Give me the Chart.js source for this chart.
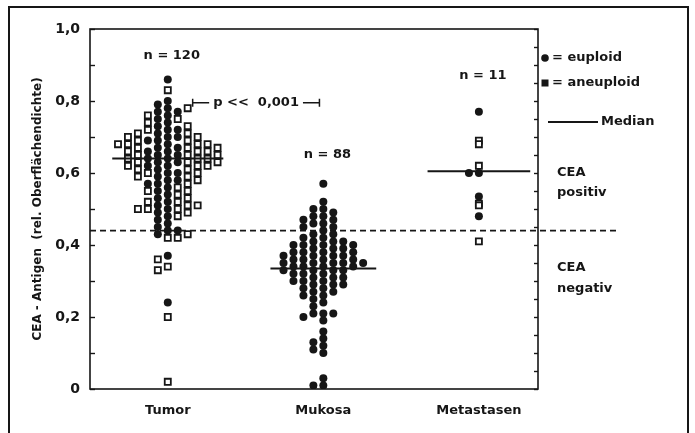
<!DOCTYPE html>
<html><head><meta charset="utf-8">
<script src="https://cdn.jsdelivr.net/npm/chart.js@4/dist/chart.umd.min.js"></script>
<style>html,body{margin:0;padding:0;background:#fff}#wrap{width:695px;height:433px;position:relative}</style>
</head><body><div id="wrap"><canvas id="c" width="695" height="433"></canvas></div>
<script>
// ---------- data ----------
const categories = ['Tumor', 'Mukosa', 'Metastasen'];
const groupCounts = ['n = 120', 'n = 88', 'n = 11'];
const tumorEuploid = [0.86, 0.80, 0.79, 0.78, 0.77, 0.77, 0.76, 0.75, 0.74, 0.73, 0.72, 0.72, 0.71, 0.70, 0.70,
  0.69, 0.69, 0.68, 0.67, 0.67, 0.66, 0.66, 0.65, 0.65, 0.64, 0.64, 0.63, 0.63, 0.62, 0.62, 0.61, 0.60, 0.60,
  0.59, 0.58, 0.58, 0.57, 0.57, 0.56, 0.55, 0.54, 0.53, 0.52, 0.51, 0.50, 0.49, 0.48, 0.47, 0.46, 0.45, 0.44,
  0.44, 0.43, 0.37, 0.24];
const tumorAneuploid = [0.83, 0.78, 0.76, 0.75, 0.74, 0.73, 0.72, 0.71, 0.71, 0.70, 0.70, 0.69, 0.69, 0.68, 0.68,
  0.68, 0.68, 0.67, 0.67, 0.67, 0.66, 0.66, 0.66, 0.65, 0.65, 0.65, 0.64, 0.64, 0.64, 0.63, 0.63, 0.63, 0.62,
  0.62, 0.62, 0.61, 0.61, 0.60, 0.60, 0.59, 0.59, 0.58, 0.57, 0.56, 0.55, 0.55, 0.54, 0.53, 0.52, 0.52, 0.51,
  0.51, 0.50, 0.50, 0.50, 0.49, 0.48, 0.43, 0.42, 0.42, 0.36, 0.34, 0.33, 0.20, 0.02];
const mukosaEuploid = [0.57, 0.52, 0.50, 0.50, 0.49, 0.48, 0.48, 0.47, 0.47, 0.46, 0.46, 0.45, 0.45, 0.44,
  0.43, 0.43, 0.42, 0.42, 0.41, 0.41, 0.41, 0.40, 0.40, 0.40, 0.40,
  0.39, 0.39, 0.39, 0.38, 0.38, 0.38, 0.38, 0.37, 0.37, 0.37, 0.37,
  0.36, 0.36, 0.36, 0.36, 0.35, 0.35, 0.35, 0.35, 0.35, 0.34, 0.34,
  0.34, 0.34, 0.33, 0.33, 0.33, 0.33, 0.32, 0.32, 0.32, 0.31, 0.31,
  0.31, 0.30, 0.30, 0.30, 0.29, 0.29, 0.29, 0.28, 0.28, 0.27, 0.27,
  0.26, 0.26, 0.25, 0.24, 0.23, 0.21, 0.21, 0.21, 0.20, 0.19, 0.16,
  0.14, 0.13, 0.12, 0.11, 0.10, 0.03, 0.01, 0.01];
const mukosaAneuploid = [];
const metastasenEuploid = [0.77, 0.60, 0.60, 0.535, 0.48];
const metastasenAneuploid = [0.69, 0.68, 0.62, 0.515, 0.51, 0.41];
const medians = [0.64, 0.335, 0.605];
const threshold = 0.44;
const yTickValues = [0, 0.2, 0.4, 0.6, 0.8, 1.0];
const legendLabels = ['= euploid', '= aneuploid', 'Median'];
const zoneLabels = [['CEA', 'positiv'], ['CEA', 'negativ']];
const pLabel = 'p <<  0,001';
const yTitle = 'CEA - Antigen  (rel. Oberflächendichte)';

// ---------- layout / style ----------
const INK = '#161616';
const FONT = "'DejaVu Sans', sans-serif";
const COL_STEP = 0.064;            // horizontal column spacing (x units)
const groupMinDist = [0.019, 0.019, 0.005];
const medianHalf = [0.357, 0.34, 0.33];
const countLabelY = [0.925, 0.65, 0.87];

const groups = [
  {eu: tumorEuploid, an: tumorAneuploid},
  {eu: mukosaEuploid, an: mukosaAneuploid},
  {eu: metastasenEuploid, an: metastasenAneuploid}
];

// simple dot-plot layout: each value goes to the nearest free column
function swarm(values, centre, minDist, placed, alternate) {
  const out = [];
  [...values].sort((a, b) => b - a).forEach((v, n) => {
    const s = (alternate && n % 2 === 1) ? -1 : 1;
    for (let k = 0; k < 60; k++) {
      const col = k === 0 ? 0 : (k % 2 ? -s * Math.ceil(k / 2) : s * Math.ceil(k / 2));
      if (!placed.some(p => p.col === col && Math.abs(p.v - v) < minDist - 1e-9)) {
        placed.push({col, v});
        out.push({x: centre + col * COL_STEP, y: v});
        break;
      }
    }
  });
  return out;
}

const euPts = [], anPts = [];
groups.forEach((g, i) => {
  const placed = [];
  euPts.push(...swarm(g.eu, i + 1, groupMinDist[i], placed, false));
  anPts.push(...swarm(g.an, i + 1, groupMinDist[i], placed, true));
});

const medianSets = medians.map((m, i) => ({
  type: 'line', order: 0,
  data: [{x: i + 1 - medianHalf[i], y: m}, {x: i + 1 + medianHalf[i], y: m}],
  borderColor: INK, borderWidth: 2, pointRadius: 0, fill: false
}));

const fmt = v => v === 0 ? '0' : v.toFixed(1).replace('.', ',');

const decor = {
  id: 'decor',
  beforeDatasetsDraw(chart) {
    const {ctx, chartArea: a, scales: {y}} = chart;
    ctx.save();
    const ty = y.getPixelForValue(threshold);
    ctx.strokeStyle = INK; ctx.lineWidth = 1.6; ctx.setLineDash([6, 4]);
    ctx.beginPath(); ctx.moveTo(a.left, ty); ctx.lineTo(620, ty); ctx.stroke();
    ctx.setLineDash([]);
    ctx.restore();
  },
  afterDraw(chart) {
    const {ctx, chartArea: a, scales: {x, y}} = chart;
    ctx.save();
    ctx.strokeStyle = INK; ctx.fillStyle = INK;
    ctx.lineWidth = 2;
    ctx.beginPath(); ctx.moveTo(9, 433); ctx.lineTo(9, 7); ctx.lineTo(688, 7); ctx.lineTo(688, 433); ctx.stroke();
    ctx.lineWidth = 1.6;
    ctx.strokeRect(a.left, a.top, a.right - a.left, a.bottom - a.top);
    ctx.lineWidth = 1.4;
    for (let v = 0; v <= 1.0001; v += 0.1) {
      const py = Math.round(y.getPixelForValue(v)) + 0.5;
      ctx.beginPath(); ctx.moveTo(a.left, py); ctx.lineTo(a.left + 5, py); ctx.stroke();
    }
    for (let v = 0; v <= 1.0001; v += 0.05) {
      const py = Math.round(y.getPixelForValue(v)) + 0.5;
      ctx.beginPath(); ctx.moveTo(a.right, py); ctx.lineTo(a.right - 4, py); ctx.stroke();
    }
    ctx.font = 'bold 13px ' + FONT; ctx.textAlign = 'center'; ctx.textBaseline = 'middle';
    groupCounts.forEach((t, i) => ctx.fillText(t, x.getPixelForValue(i + 1) + 4, y.getPixelForValue(countLabelY[i])));
    const bx0 = x.getPixelForValue(1.16), bx1 = x.getPixelForValue(1.975), by = y.getPixelForValue(0.795);
    const tw = ctx.measureText(pLabel).width, mid = (bx0 + bx1) / 2;
    ctx.fillText(pLabel, mid, by);
    ctx.lineWidth = 1.5;
    ctx.beginPath();
    ctx.moveTo(bx0, by); ctx.lineTo(mid - tw / 2 - 4, by);
    ctx.moveTo(mid + tw / 2 + 4, by); ctx.lineTo(bx1, by);
    ctx.moveTo(bx0, by - 4); ctx.lineTo(bx0, by + 4);
    ctx.moveTo(bx1, by - 4); ctx.lineTo(bx1, by + 4);
    ctx.stroke();
    ctx.textAlign = 'left';
    ctx.beginPath(); ctx.arc(545, 58, 3.8, 0, Math.PI * 2); ctx.fill();
    ctx.fillText(legendLabels[0], 552, 58);
    ctx.fillRect(541.5, 79.5, 7, 7);
    ctx.fillText(legendLabels[1], 552, 83);
    ctx.lineWidth = 2;
    ctx.beginPath(); ctx.moveTo(548, 122); ctx.lineTo(598, 122); ctx.stroke();
    ctx.fillText(legendLabels[2], 601, 122);
    ctx.fillText(zoneLabels[0][0], 557, 173);
    ctx.fillText(zoneLabels[0][1], 557, 193);
    ctx.fillText(zoneLabels[1][0], 557, 268);
    ctx.fillText(zoneLabels[1][1], 557, 289);
    ctx.restore();
  }
};

new Chart(document.getElementById('c'), {
  type: 'scatter',
  data: {
    datasets: [
      ...medianSets,
      {label: 'aneuploid', order: 1, data: anPts, pointStyle: 'rect', pointRadius: 4.3,
        backgroundColor: '#fff', borderColor: INK, borderWidth: 1.8},
      {label: 'euploid', order: 2, data: euPts, pointStyle: 'circle', pointRadius: 4,
        backgroundColor: INK, borderColor: INK, borderWidth: 0}
    ]
  },
  options: {
    responsive: false, animation: false, devicePixelRatio: 1,
    layout: {padding: {top: 29, right: 157, left: 0, bottom: 0}},
    plugins: {legend: {display: false}, tooltip: {enabled: false}},
    scales: {
      x: {
        type: 'linear', min: 0.5, max: 3.38,
        grid: {display: false, drawTicks: false}, border: {display: false},
        afterBuildTicks: s => { s.ticks = [1, 2, 3].map(v => ({value: v})); },
        ticks: {callback: (v, i) => categories[i], color: INK, padding: 14,
          font: {family: FONT, size: 13, weight: 'bold'}, maxRotation: 0, autoSkip: false},
        afterFit: s => { s.height = 44; }
      },
      y: {
        min: 0, max: 1,
        grid: {display: false, drawTicks: false}, border: {display: false},
        afterBuildTicks: s => { s.ticks = yTickValues.map(v => ({value: v})); },
        ticks: {callback: v => fmt(v), color: INK, padding: 10,
          font: {family: FONT, size: 14, weight: 'bold'}},
        title: {display: true, text: yTitle, color: INK, padding: {top: 31, bottom: 0},
          font: {family: FONT, size: 12, weight: 'bold'}},
        afterFit: s => { s.width = 90; }
      }
    }
  },
  plugins: [decor]
});
</script>
</body></html>
